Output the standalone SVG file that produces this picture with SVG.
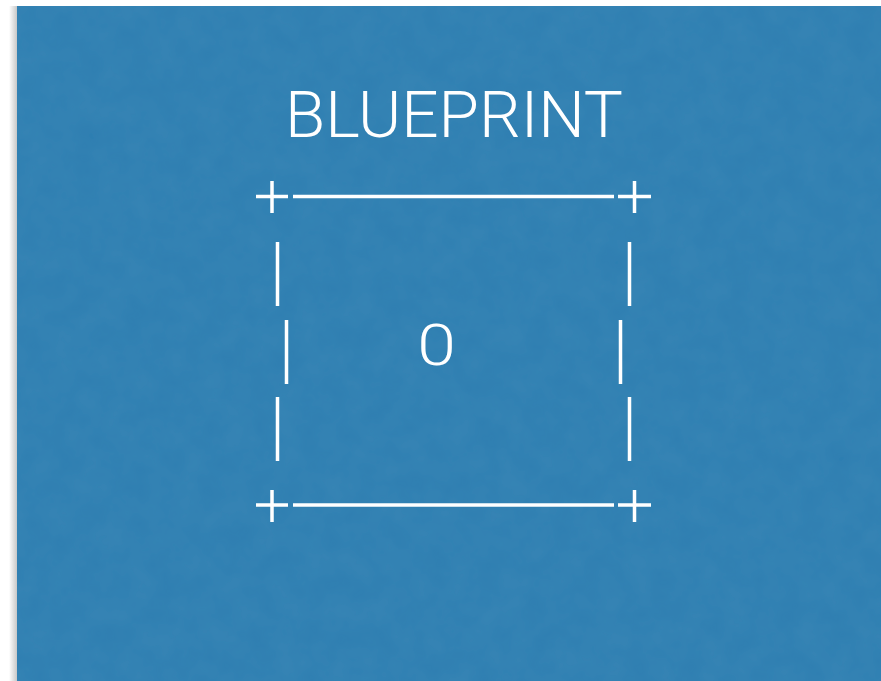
<svg xmlns="http://www.w3.org/2000/svg" width="881" height="681" viewBox="0 0 881 681">
<defs>
<linearGradient id="shadow" x1="0" y1="0" x2="1" y2="0">
<stop offset="0" stop-color="#ffffff"/>
<stop offset="1" stop-color="#c8c8c8"/>
</linearGradient>
<filter id="grain" x="0" y="0" width="100%" height="100%">
<feTurbulence type="fractalNoise" baseFrequency="0.04" numOctaves="3" seed="3" result="n"/>
<feColorMatrix in="n" type="matrix" values="0 0 0 0 0.1  0 0 0 0 0.35  0 0 0 0 0.55  0 0 0 0.2 0"/>
<feComposite in2="SourceGraphic" operator="in"/>
</filter>
<style>
.ln{stroke:#ffffff;stroke-width:3.5;fill:none}
.t{fill:#ffffff;font-family:Roboto,"Liberation Sans",sans-serif;font-weight:300}
</style>
</defs>
<rect width="881" height="681" fill="#ffffff"/>
<rect x="9" y="6" width="8" height="675" fill="url(#shadow)"/>
<rect x="17" y="6" width="864" height="675" fill="#2e7eb1"/>
<rect x="17" y="6" width="864" height="675" fill="#2e7eb1" filter="url(#grain)"/>
<g id="title">
<text class="t" x="454" y="137" font-size="64" text-anchor="middle" textLength="338" lengthAdjust="spacingAndGlyphs">BLUEPRINT</text>
</g>
<g id="box">
<g id="corners">
<path class="ln" d="M256 196.5H288M272 181V213"/>
<path class="ln" d="M618 196.5H651M634.5 181V213"/>
<path class="ln" d="M256 505H288M272 490V522"/>
<path class="ln" d="M618 505H651M634.5 490V522"/>
</g>
<g id="edges">
<path class="ln" d="M293 196.5H614"/>
<path class="ln" d="M293 505H614"/>
<path class="ln" d="M277.5 242V306M286.5 320V384M277.5 397V461"/>
<path class="ln" d="M629.5 242V306M620.5 320V384M629.5 397V461"/>
</g>
<text class="t" x="0" y="365" font-size="58" text-anchor="middle" transform="translate(436.5 0) scale(1.2 1)">0</text>
</g>
</svg>
